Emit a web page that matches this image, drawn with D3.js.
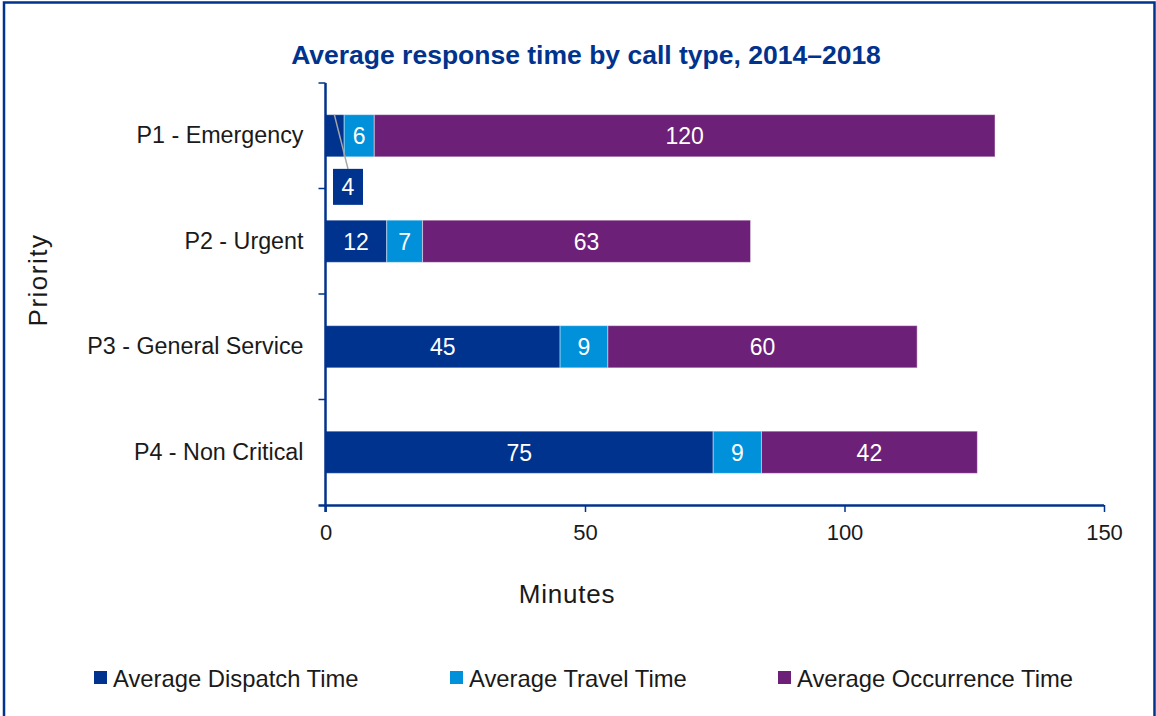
<!DOCTYPE html>
<html><head><meta charset="utf-8">
<script src="https://cdn.jsdelivr.net/npm/d3@7"></script>
<style>
body{margin:0;background:#fff;}
svg text{font-family:"Liberation Sans",Arial,sans-serif;}
</style></head>
<body><svg id="c" width="1156" height="716"></svg>
<script>
const categories = ["P1 - Emergency","P2 - Urgent","P3 - General Service","P4 - Non Critical"];
const seriesNames = ["Average Dispatch Time","Average Travel Time","Average Occurrence Time"];
const dispatch = [3.6, 11.8, 45.2, 74.7];
const travel = [5.8, 6.9, 9.2, 9.3];
const occurrence = [119.6, 63.2, 59.6, 41.6];
const xTicks = [0, 50, 100, 150];
const colors = ["#00338D","#0091DA","#6D2077"];
const title = "Average response time by call type, 2014–2018";

const svg = d3.select("#c");
const navy = "#00338D";
const ink = "#1a1a1a";
// frame
svg.append("path").attr("d","M4,720 V2.5 H1154.5 V720").attr("fill","none").attr("stroke",navy).attr("stroke-width",2.5);

const x = d3.scaleLinear().domain([0,150]).range([325.5,1104]);
const y = d3.scaleBand().domain(categories).range([83,505]).paddingInner(0.6).paddingOuter(0.3);

const stackData = categories.map((c,i)=>({cat:c, s0:dispatch[i], s1:travel[i], s2:occurrence[i]}));
const stack = d3.stack().keys(["s0","s1","s2"])(stackData);

const g = svg.append("g");
stack.forEach((layer,li)=>{
  g.selectAll(null).data(layer).enter().append("rect")
    .attr("x",d=>x(d[0])).attr("width",d=>x(d[1])-x(d[0]))
    .attr("y",d=>y(d.data.cat)).attr("height",y.bandwidth())
    .attr("fill",colors[li]).attr("stroke","rgba(255,255,255,0.45)").attr("stroke-width",1);
});
// labels
stack.forEach((layer,li)=>{
  layer.forEach((d,i)=>{
    const v = d[1]-d[0];
    const w = x(d[1])-x(d[0]);
    const cy = y(d.data.cat)+y.bandwidth()/2;
    if (w > 25) {
      g.append("text").attr("x",(x(d[0])+x(d[1]))/2).attr("y",cy).attr("dy","0.36em")
        .attr("text-anchor","middle").attr("fill","#fff").attr("font-size",23).text(d3.format(".0f")(v));
    } else {
      // callout below bar
      const bx = x(d[0]) + 7.5, by = y(d.data.cat)+y.bandwidth()+12;
      g.append("line").attr("x1",(x(d[0])+x(d[1]))/2 - 0.5).attr("y1",y(d.data.cat)).attr("x2",bx+15).attr("y2",by)
        .attr("stroke","#a6a6a6").attr("stroke-width",1.5);
      g.append("rect").attr("x",bx).attr("y",by).attr("width",30).attr("height",36).attr("fill",colors[li]);
      g.append("text").attr("x",bx+15).attr("y",by+18).attr("dy","0.36em").attr("text-anchor","middle")
        .attr("fill","#fff").attr("font-size",23).text(d3.format(".0f")(v));
    }
  });
});

// x axis
const xa = svg.append("g").attr("transform","translate(0,505)")
  .call(d3.axisBottom(x).tickValues(xTicks).tickSize(7).tickPadding(12).tickSizeOuter(0));
xa.select(".domain").attr("d",`M${x(0)-7},0.5H${x(150)}`);
xa.selectAll("line").attr("stroke",navy).attr("stroke-width",1.5);
xa.select(".domain").attr("stroke",navy).attr("stroke-width",2.5);
xa.selectAll("text").attr("font-size",22).attr("fill",ink).attr("font-family","Liberation Sans, Arial, sans-serif");

// y axis
const ya = svg.append("g").attr("transform",`translate(${x(0)},0)`)
  .call(d3.axisLeft(y).tickSize(0).tickPadding(22));
ya.select(".domain").attr("d","M0,83V512").attr("stroke",navy).attr("stroke-width",2.5);
ya.selectAll("text").attr("font-size",23.3).attr("fill",ink).attr("font-family","Liberation Sans, Arial, sans-serif");
const bounds = d3.range(categories.length).map(i=>y.range()[0]+i*y.step());
ya.selectAll(".bt").data(bounds).enter().append("line").attr("class","bt")
  .attr("x1",-7).attr("x2",0).attr("y1",d=>d).attr("y2",d=>d).attr("stroke",navy).attr("stroke-width",1.5);

// titles
svg.append("text").attr("x",586).attr("y",64).attr("text-anchor","middle").attr("font-size",26.5).attr("font-weight","bold")
  .attr("fill",navy).text(title);
svg.append("text").attr("x",567).attr("y",603).attr("text-anchor","middle").attr("font-size",26).attr("letter-spacing",0.8).attr("fill",ink).text("Minutes");
svg.append("text").attr("transform","translate(47,280) rotate(-90)").attr("text-anchor","middle").attr("font-size",26).attr("letter-spacing",1.5).attr("fill",ink).text("Priority");

// legend
const legX = [94, 450, 778];
const lg = svg.append("g");
seriesNames.forEach((n,i)=>{
  lg.append("rect").attr("x",legX[i]).attr("y",671).attr("width",13).attr("height",13).attr("fill",colors[i]);
  lg.append("text").attr("x",legX[i]+19).attr("y",678).attr("dy","0.36em").attr("font-size",23.8).attr("fill",ink).text(n);
});
</script></body></html>
